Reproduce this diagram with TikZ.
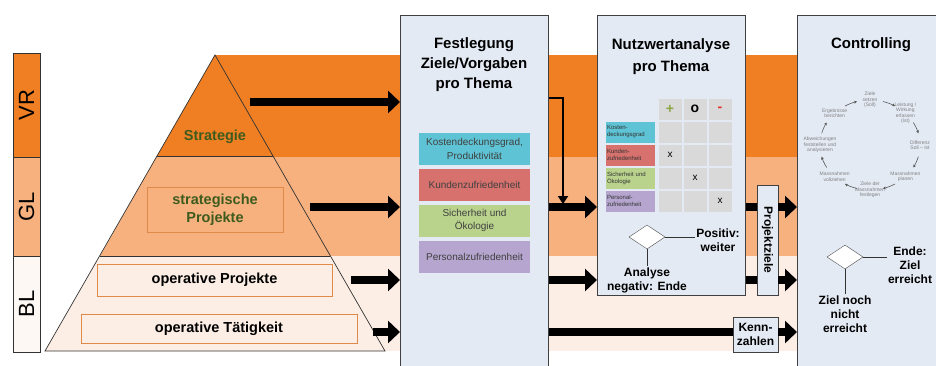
\documentclass[tikz,border=0pt]{standalone}
\usepackage{fontspec}
\setmainfont{Liberation Sans}
\usetikzlibrary{arrows.meta,shapes.geometric,positioning}

\definecolor{vrorange}{HTML}{EF7F22}
\definecolor{glorange}{HTML}{F6B17E}
\definecolor{blorange}{HTML}{FCEEE4}
\definecolor{panelblue}{HTML}{E4EAF4}
\definecolor{frameorange}{HTML}{E08A4A}
\definecolor{stratgreen}{HTML}{3E5B1E}
\definecolor{kdgcyan}{HTML}{5EC3D4}
\definecolor{kzred}{HTML}{D6716D}
\definecolor{soegreen}{HTML}{B9D38D}
\definecolor{pzpurple}{HTML}{B5A5CF}
\definecolor{cellgray}{HTML}{D9D9D9}
\definecolor{plusgreen}{HTML}{8DA544}
\definecolor{minusred}{HTML}{E0302C}

\tikzset{
  bigarrow/.style={line width=8pt,-{Triangle[length=12pt,width=22pt]}},
  bar/.style={line width=8pt},
  thinarrow/.style={line width=1.8pt,-{Triangle[length=8pt,width=10pt]}},
  panel/.style={draw=black!75,fill=panelblue,line width=0.8pt,anchor=north west,inner sep=0pt},
  title/.style={font=\fontsize{15}{20}\selectfont\bfseries,align=center},
  levelbox/.style={draw=frameorange,line width=0.8pt,font=\fontsize{14.5}{18}\selectfont\bfseries,align=center,inner sep=0pt},
  themebox/.style={minimum width=111pt,minimum height=32pt,inner sep=0pt,align=center,text=black!75,font=\fontsize{10}{13.5}\selectfont},
  cell/.style={fill=cellgray,minimum width=23pt,minimum height=21pt,inner sep=0pt},
  rowlabel/.style={minimum width=49pt,minimum height=21pt,inner sep=1pt,align=left,text width=47pt,text=black!80,font=\fontsize{6}{7}\selectfont},
  decision/.style={diamond,draw=black!70,fill=white,minimum width=36pt,minimum height=24pt,inner sep=0pt},
  note/.style={font=\fontsize{12}{14}\selectfont\bfseries,align=center,inner sep=1pt},
  tagbox/.style={draw=black!75,fill=panelblue,line width=0.8pt,inner sep=0pt,font=\fontsize{12}{14}\selectfont\bfseries,align=center},
  rank/.style={draw=black!80,line width=0.8pt,minimum height=27pt,inner sep=0pt,rotate=90,font=\fontsize{22}{22}\selectfont},
  cycletext/.style={font=\fontsize{5}{5.5}\selectfont,text=black!50,align=center,inner sep=0pt},
  cyclearrow/.style={draw=black!65,line width=0.6pt,-{Stealth[length=3pt,width=3pt]}},
}

\begin{document}
\begin{tikzpicture}[x=1pt,y=1pt]
  \useasboundingbox (0,0) rectangle (936,365);

  \fill[vrorange] (215,310) rectangle (800,208);
  \fill[glorange] (215,208) rectangle (800,109);
  \fill[blorange] (215,109) rectangle (800,14);

  \node[rank,fill=vrorange,minimum width=104pt] (vr) at (26.5,260) {VR};
  \node[rank,fill=glorange,minimum width=99pt] (gl) at (26.5,158.5) {GL};
  \node[rank,fill=blorange!40,minimum width=96pt] (bl) at (26.5,61) {BL};

  \fill[vrorange] (215,310) -- (157,209) -- (273,209) -- cycle;
  \fill[glorange] (157,209) -- (273,209) -- (330,109) -- (100,109) -- cycle;
  \fill[blorange] (100,109) -- (330,109) -- (385,14) -- (45,14) -- cycle;
  \draw[black!80,line width=0.7pt] (215,310) -- (385,14) -- (45,14) -- cycle;
  \draw[black!80,line width=0.7pt] (157,209) -- (273,209);
  \draw[black!80,line width=0.7pt] (100,109) -- (330,109);

  \node[font=\fontsize{14.5}{18}\selectfont\bfseries,text=stratgreen] (strat) at (215,228) {Strategie};
  \node[levelbox,text=stratgreen,minimum width=136pt,minimum height=45pt] (sproj) at (215,155.5) {strategische\\Projekte};
  \node[levelbox,minimum width=235pt,minimum height=32pt] (oproj) at (214.5,85) {operative Projekte};
  \node[levelbox,minimum width=276pt,minimum height=29pt] (otaet) at (219,36.5) {operative Tätigkeit};

  \coordinate (vrS) at (250,263);
  \coordinate (glS) at (310,158);
  \coordinate (opS) at (351,85);
  \coordinate (otS) at (373,33);

  % Festlegung
  \node[panel,minimum width=148pt,minimum height=355pt] (festl) at (400,350) {};
  \node[title] (festlT) at (474,300) {Festlegung\\Ziele/Vorgaben\\pro Thema};
  \node[themebox,fill=kdgcyan] (t1) at (474.5,216) {Kostendeckungsgrad,\\Produktivität};
  \node[themebox,fill=kzred] (t2) at (474.5,180) {Kundenzufriedenheit};
  \node[themebox,fill=soegreen] (t3) at (474.5,144.5) {Sicherheit und\\Ökologie};
  \node[themebox,fill=pzpurple] (t4) at (474.5,108.5) {Personalzufriedenheit};

  % Nutzwertanalyse
  \node[panel,minimum width=148pt,minimum height=280pt] (nutz) at (597,350) {};
  \node[title,font=\fontsize{15}{22}\selectfont\bfseries] (nutzT) at (671,308) {Nutzwertanalyse\\pro Thema};
  \foreach \x/\sym/\symcol [count=\i] in {670/+/plusgreen,695/o/black,720/-/minusred}
    \node[cell,text=\symcol,font=\fontsize{14}{14}\selectfont\bfseries] (h\i) at (\x,256) {\sym};
  \foreach \txt/\fc [count=\r] in {{Kosten-\\deckungsgrad}/kdgcyan,{Kunden-\\zufriedenheit}/kzred,{Sicherheit und\\Ökologie}/soegreen,{Personal-\\zufriedenheit}/pzpurple} {
    \pgfmathsetmacro\yy{256-23*\r}
    \node[rowlabel,fill=\fc] (l\r) at (630.5,\yy) {\txt};
    \foreach \x [count=\i] in {670,695,720}
      \node[cell] (c\r\i) at (\x,\yy) {};
  }
  \node[font=\fontsize{10}{10}\selectfont] (x1) at (c21) {x};
  \node[font=\fontsize{10}{10}\selectfont] (x2) at (c32) {x};
  \node[font=\fontsize{10}{10}\selectfont] (x3) at (c43) {x};

  \node[decision] (nwdec) at (647,128) {};
  \node[note] (nwpos) at (718,125) {Positiv:\\weiter};
  \node[note] (nwneg) at (647,85) {Analyse\\negativ: Ende};
  \draw[black!80,line width=0.8pt] (nwdec.east) -- (nwpos.west |- nwdec.east);
  \draw[black!80,line width=0.8pt] (nwdec.south) -- (nwneg.north);

  % Controlling
  \node[panel,minimum width=150pt,minimum height=355pt] (ctrl) at (797,350) {};
  \node[title] (ctrlT) at (871,320) {Controlling};
  \coordinate (cyc) at (870,220);
  \foreach \a/\txt [count=\i] in {90/{Ziele\\setzen\\(Soll)},45/{Leistung /\\Wirkung\\erfassen\\(Ist)},0/{Differenz\\Soll -- Ist},-45/{Massnahmen\\planen},-90/{Ziele der\\Massnahmen\\festlegen},-135/{Massnahmen\\vollziehen},180/{Abweichungen\\feststellen und\\analysieren},135/{Ergebnisse\\berichten}}
    \node[cycletext] (cy\i) at ([shift={(\a:50 and 45)}]cyc) {\txt};
  \foreach \a [evaluate=\a as \s using \a-15, evaluate=\a as \e using \a-30] in {90,45,...,-225}
    \draw[cyclearrow] ([shift={(\s:50 and 45)}]cyc) arc[start angle=\s,end angle=\e,x radius=50,y radius=45];

  \node[decision] (ctdec) at (845,108) {};
  \node[note] (ctend) at (910,100) {Ende:\\Ziel\\erreicht};
  \node[note] (ctnot) at (845,51) {Ziel noch\\nicht\\erreicht};
  \draw[black!80,line width=0.8pt] (ctdec.east) -- (ctend.west |- ctdec.east);
  \draw[black!80,line width=0.8pt] (ctdec.south) -- (ctnot.north);

  \node[tagbox,rotate=-90,minimum width=110pt,minimum height=21pt] (proj) at (767.5,125) {Projektziele};
  \node[tagbox,minimum width=45pt,minimum height=35pt] (kenn) at (755.5,30.5) {Kenn-\\zahlen};

  \draw[bigarrow] (vrS) -- (vrS -| festl.west);
  \draw[bigarrow] (glS) -- (glS -| festl.west);
  \draw[bigarrow] (opS) -- (opS -| festl.west);
  \draw[bigarrow] (otS) -- (otS -| festl.west);

  \draw[bigarrow] (glS -| festl.east) -- (glS -| nutz.west);
  \draw[bigarrow] (opS -| festl.east) -- (opS -| nutz.west);
  \draw[bar] (glS -| nutz.east) -- (glS -| proj.south);
  \draw[bar] (opS -| nutz.east) -- (opS -| proj.south);
  \draw[bigarrow] (glS -| proj.north) -- (glS -| ctrl.west);
  \draw[bigarrow] (opS -| proj.north) -- (opS -| ctrl.west);
  \draw[bar] (otS -| festl.east) -- (otS -| kenn.west);
  \draw[bigarrow] (otS -| kenn.east) -- (otS -| ctrl.west);

  \coordinate (split) at (563,267);
  \draw[thinarrow,shorten >=3pt] (split -| festl.east) -- (split) -- (split |- glS);
\end{tikzpicture}
\end{document}
